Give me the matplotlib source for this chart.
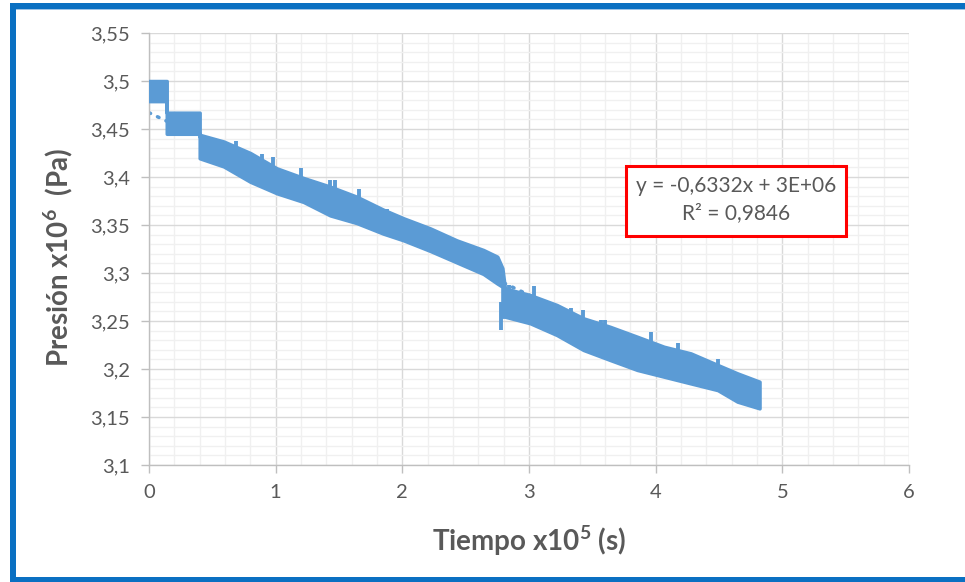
import matplotlib
matplotlib.use("Agg")
import matplotlib.pyplot as plt
from matplotlib.patches import Rectangle
from matplotlib.ticker import MultipleLocator, FuncFormatter

plt.rcParams['font.family'] = ['Lato', 'DejaVu Sans']
plt.rcParams['mathtext.fontset'] = 'custom'
plt.rcParams['mathtext.rm'] = 'Lato'
plt.rcParams['mathtext.bf'] = 'Lato:bold'

# Envelope of the pressure band (x in 1e5 s, y in 1e6 Pa)
band_x = [0.0, 0.14, 0.14, 0.40, 0.40, 0.59, 0.80, 1.01, 1.22, 1.43, 1.64, 1.85,
          2.01, 2.22, 2.43, 2.64, 2.75, 2.79, 2.79, 2.81, 3.01, 3.22, 3.43, 3.64,
          3.855, 4.066, 4.277, 4.49, 4.645, 4.82]
band_top = [3.500, 3.500, 3.467, 3.467, 3.444, 3.437, 3.425, 3.409, 3.399, 3.390,
            3.3795, 3.366, 3.357, 3.3465, 3.334, 3.324, 3.317, 3.305, 3.305, 3.284,
            3.277, 3.2667, 3.2528, 3.244, 3.2336, 3.2232, 3.2163, 3.2042, 3.1955, 3.1868]
band_low = [3.479, 3.479, 3.445, 3.445, 3.4195, 3.411, 3.395, 3.383, 3.374, 3.360,
            3.352, 3.341, 3.334, 3.323, 3.311, 3.299, 3.289, 3.2857, 3.2545, 3.2545,
            3.2476, 3.2354, 3.2198, 3.2094, 3.199, 3.192, 3.185, 3.178, 3.166, 3.159]

# isolated spikes sticking out of the band
spike_x = [0.69, 0.89, 0.98, 1.20, 1.43, 1.47, 1.66, 1.88, 2.775, 2.84, 3.04, 3.33,
           3.43, 3.57, 3.60, 3.96, 4.18, 4.49]
spike_hi = [3.437, 3.424, 3.421, 3.409, 3.397, 3.397, 3.388, 3.367, 3.270, 3.2875,
            3.2865, 3.264, 3.2615, 3.251, 3.251, 3.239, 3.227, 3.210]
spike_lo = [3.431, 3.418, 3.411, 3.400, 3.390, 3.388, 3.378, 3.364, 3.2406, 3.283,
            3.276, 3.259, 3.2528, 3.247, 3.246, 3.228, 3.219, 3.204]

# linear trendline (Excel): y = -0,6332x + 3E+06, intercept
trend_slope = -0.6332      # Pa/s
trend_intercept = 3.467    # 1e6 Pa
trend_x = [0.0, 4.82]
eq_text = "y = -0,6332x + 3E+06"
r2_text = "R\u00b2 = 0,9846"

grey = '#595959'
blue = '#5b9bd5'

fig = plt.figure(figsize=(9.65, 5.82), dpi=100)
ax = fig.add_axes([0.1544, 0.201, 0.7876, 0.7423])

ax.fill_between(band_x, band_low, band_top, color=blue, lw=2.5, edgecolor=blue,
                joinstyle='round', zorder=3)
ax.vlines(spike_x, spike_lo, spike_hi, color=blue, lw=2.8, zorder=3)
trend_y = [trend_intercept + trend_slope * 1e5 / 1e6 * t for t in trend_x]
ax.plot(trend_x, trend_y, color=blue, lw=2.5, linestyle=(0, (0.5, 2.2)),
        dash_capstyle='round', zorder=2)

ax.set_xlim(0, 6)
ax.set_ylim(3.1, 3.55)
ax.xaxis.set_major_locator(MultipleLocator(1))
ax.xaxis.set_minor_locator(MultipleLocator(0.2))
ax.yaxis.set_major_locator(MultipleLocator(0.05))
ax.yaxis.set_minor_locator(MultipleLocator(0.01))
ax.yaxis.set_major_formatter(FuncFormatter(lambda v, p: f"{round(v, 2):g}".replace('.', ',')))
ax.xaxis.set_major_formatter(FuncFormatter(lambda v, p: f"{v:g}"))

ax.grid(which='major', color='#d9d9d9', lw=1.0, zorder=0)
ax.grid(which='minor', color='#f0f0f0', lw=1.0, zorder=0)
ax.set_axisbelow(True)
for s in ['top', 'right']:
    ax.spines[s].set_visible(False)
for s in ['left', 'bottom']:
    ax.spines[s].set_color('#bfbfbf')
    ax.spines[s].set_linewidth(1.0)
ax.tick_params(which='major', length=5.5, width=1, color='#bfbfbf',
               labelsize=14.5, labelcolor=grey, pad=8)
ax.tick_params(which='minor', length=0)

ax.set_xlabel(r"Tiempo x10$^{\mathbf{5}}$ (s)", fontsize=16, fontweight='bold', color=grey)
ax.set_ylabel(r"Presión x10$^{\mathbf{6}}$  (Pa)", fontsize=16, fontweight='bold', color=grey)
ax.xaxis.set_label_coords(0.5, -0.135)
ax.yaxis.set_label_coords(-0.097, 0.48)

# equation box
ax.add_patch(Rectangle((0.6276, 0.530), 0.2895, 0.162, transform=ax.transAxes,
                       fill=True, facecolor='white', edgecolor='#ff0000', lw=2.2, zorder=5))
ax.text(0.772, 0.646, eq_text, transform=ax.transAxes, ha='center', va='center',
        fontsize=15, color=grey, zorder=6)
ax.text(0.772, 0.583, r2_text, transform=ax.transAxes, ha='center', va='center',
        fontsize=15, color=grey, zorder=6)

# size the axis titles to the width they have in the original
fig.canvas.draw()
rend = fig.canvas.get_renderer()
xl, yl = ax.xaxis.label, ax.yaxis.label
xl.set_fontsize(16 * 195 / xl.get_window_extent(rend).width)
yl.set_fontsize(16 * 220 / yl.get_window_extent(rend).height)

# blue frame around the chart (right side is cut off in the original)
border = '#0a70c2'
fig.add_artist(Rectangle((10 / 965, 0), 6 / 965, 579 / 582, transform=fig.transFigure,
                         color=border, lw=0))
fig.add_artist(Rectangle((10 / 965, 573 / 582), 955 / 965, 6 / 582, transform=fig.transFigure,
                         color=border, lw=0))
fig.add_artist(Rectangle((16 / 965, 572 / 582), 949 / 965, 1.2 / 582, transform=fig.transFigure,
                         color='#9dc3e6', lw=0))
fig.add_artist(Rectangle((10 / 965, 0), 955 / 965, 5 / 582, transform=fig.transFigure,
                         color=border, lw=0))

fig.savefig("out.png", dpi=100)
